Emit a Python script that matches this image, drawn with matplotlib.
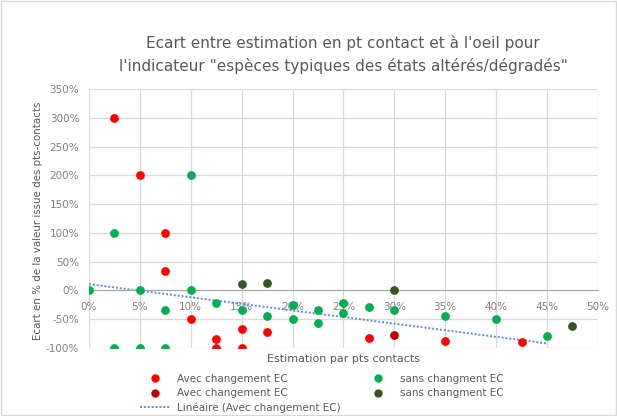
import numpy as np
import matplotlib
matplotlib.use("Agg")
import matplotlib.pyplot as plt
from matplotlib.ticker import FuncFormatter
from matplotlib.lines import Line2D

# data (fractions: 0.25 = 25%)
avec_x = [0.025, 0.05, 0.075, 0.075, 0.10, 0.125, 0.125, 0.15, 0.15, 0.175, 0.275, 0.35, 0.425]
avec_y = [3.00, 2.00, 1.00, 0.33, -0.50, -0.84, -1.00, -0.67, -1.00, -0.72, -0.82, -0.87, -0.90]
avec2_x = [0.30]
avec2_y = [-0.78]
sans_x = [0.0, 0.025, 0.025, 0.05, 0.05, 0.075, 0.075, 0.10, 0.10, 0.125, 0.15, 0.175,
          0.20, 0.20, 0.225, 0.225, 0.25, 0.25, 0.275, 0.30, 0.35, 0.40, 0.45]
sans_y = [0.0, 1.00, -1.00, 0.0, -1.00, -0.34, -1.00, 2.00, 0.0, -0.21, -0.34, -0.44,
          -0.50, -0.26, -0.34, -0.56, -0.21, -0.40, -0.28, -0.34, -0.44, -0.50, -0.79]
sans2_x = [0.15, 0.175, 0.30, 0.475]
sans2_y = [0.12, 0.13, 0.0, -0.61]
# linear trendline (as shown by Excel)
trend_intercept = 0.11
trend_slope = -2.29
trend_range = [0.0, 0.45]

fig = plt.figure(figsize=(6.17, 4.16), dpi=100)
ax = fig.add_axes([0.1442, 0.1635, 0.8248, 0.6225])

ms = 28
ax.scatter(avec_x, avec_y, s=ms, color="#FF0000", zorder=3)
ax.scatter(avec2_x, avec2_y, s=ms, color="#C00000", zorder=3)
ax.scatter(sans_x, sans_y, s=ms, color="#00B050", zorder=3)
ax.scatter(sans2_x, sans2_y, s=ms, color="#375623", zorder=3)
tx = np.array(trend_range)
ax.plot(tx, trend_intercept + trend_slope * tx, color="#5B8BD6", lw=1.4,
        linestyle=(0, (1, 1)), zorder=2)

ax.set_xlim(0, 0.5)
ax.set_ylim(-1.0, 3.5)
ax.set_xticks(np.arange(0, 0.51, 0.05))
ax.set_yticks(np.arange(-1.0, 3.51, 0.5))
ax.xaxis.set_major_formatter(FuncFormatter(lambda v, p: f"{round(v*100)}%"))
ax.yaxis.set_major_formatter(FuncFormatter(lambda v, p: f"{round(v*100)}%"))
ax.grid(True, color="#D9D9D9", lw=0.9, zorder=0)
ax.set_axisbelow(True)
for s in ["top", "right", "left"]:
    ax.spines[s].set_visible(False)
ax.spines["bottom"].set_position(("data", 0))
ax.spines["bottom"].set_color("#A6A6A6")
ax.tick_params(length=0, labelsize=7.5, labelcolor="#808080")
ax.tick_params(axis="x", pad=8)
ax.tick_params(axis="y", pad=7)

fig.text(0.5565, 0.869, "Ecart entre estimation en pt contact et à l'oeil pour\n"
         "l'indicateur \"espèces typiques des états altérés/dégradés\"",
         ha="center", va="center", fontsize=11, color="#595959", linespacing=1.6)
fig.text(0.0616, 0.469, "Ecart en % de la valeur issue des pts-contacts", rotation=90,
         ha="center", va="center", fontsize=7.4, color="#595959")
fig.text(0.5565, 0.137, "Estimation par pts contacts", ha="center", va="center",
         fontsize=8, color="#595959")

handles = [
    Line2D([], [], marker="o", ls="", color="#FF0000", ms=5, label="Avec changement EC"),
    Line2D([], [], marker="o", ls="", color="#C00000", ms=5, label="Avec changement EC"),
    Line2D([], [], color="#5B8BD6", lw=1.4, ls=(0, (1, 1)), label="Linéaire (Avec changement EC)"),
    Line2D([], [], marker="o", ls="", color="#00B050", ms=5, label="sans changment EC"),
    Line2D([], [], marker="o", ls="", color="#375623", ms=5, label="sans changment EC"),
]
leg = fig.legend(handles=handles, ncol=2, loc="upper left", bbox_to_anchor=(0.218, 0.114),
                 frameon=False, fontsize=7.5, labelcolor="#595959", handlelength=3,
                 columnspacing=2.1, labelspacing=0.42, handletextpad=0.6, borderpad=0)

fig.patches.append(plt.Rectangle((0.002, 0.002), 0.996, 0.996, transform=fig.transFigure,
                                 fill=False, edgecolor="#D9D9D9", lw=1))
fig.savefig("out.png", dpi=100)
